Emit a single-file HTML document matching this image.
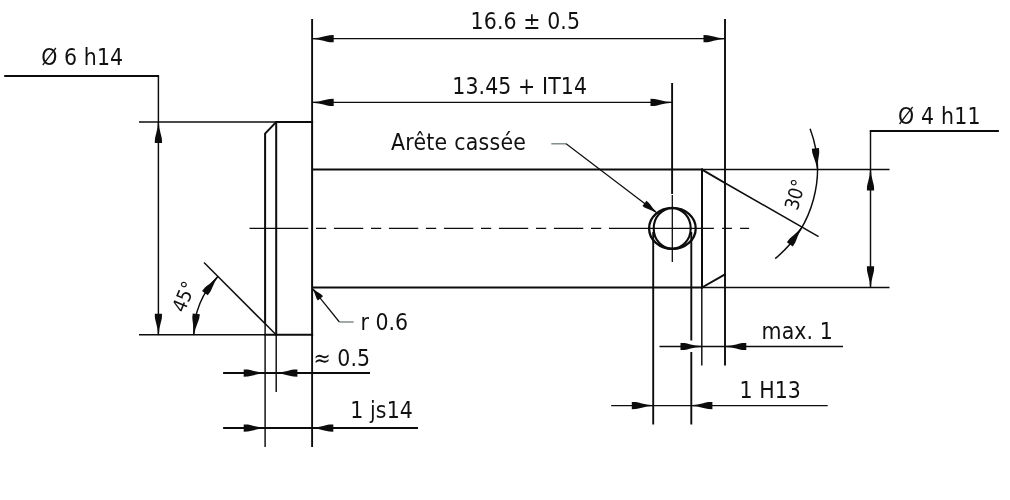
<!DOCTYPE html>
<html lang="fr">
<head>
<meta charset="utf-8">
<title>Axe - dessin technique</title>
<style>
html,body{margin:0;padding:0;background:#fff;}
body{width:1010px;height:500px;overflow:hidden;}
svg{display:block;will-change:transform;}
text{font-family:"DejaVu Sans Condensed","DejaVu Sans","Liberation Sans",sans-serif;font-size:22.8px;fill:#111;letter-spacing:0.1px;}
text.r{font-size:19.5px;letter-spacing:0;}
.k{stroke:#0c0c0c;stroke-width:2;fill:none;stroke-linecap:butt;}
.m{stroke:#0c0c0c;stroke-width:1.9;fill:none;}
.t{stroke:#0c0c0c;stroke-width:1.45;fill:none;}
.d{stroke:#0c0c0c;stroke-width:1.3;fill:none;}
.g{stroke:#6f7b7b;stroke-width:1.3;fill:none;}
.a{fill:#0c0c0c;stroke:none;}
</style>
</head>
<body>
<svg width="1010" height="500" viewBox="0 0 1010 500">
<rect width="1010" height="500" fill="#fff"/>
<defs>
<!-- arrowhead pointing right, tip at origin -->
<path id="ar" d="M0.4 -0.4 L-6 -1 L-11 -2.1 L-14.5 -3 L-17 -3.5 L-21.1 -3.6 L-21.1 3.6 L-17 3.5 L-14.5 3 L-11 2.1 L-6 1 L0.4 0.4 Z"/>
<path id="as" d="M0.3 -0.4 L-5 -1.2 L-10 -2.6 L-12.5 -3.2 L-15 -3.3 L-15 3.3 L-12.5 3.2 L-10 2.6 L-5 1.2 L0.3 0.4 Z"/>
</defs>

<!-- ===== body outline ===== -->
<g class="k">
<path d="M265.1 323.6 L265.1 133.6 L276.6 121.6"/>
<path d="M276.2 121 L276.2 335.8"/>
<path d="M275.2 122 L313.1 122"/>
<path d="M264.2 334.8 L313.1 334.8"/>
<path d="M312.1 121 L312.1 335.8"/>
<path d="M702 168.6 L702 288.4"/>
<path d="M702 287.5 L725 274.4"/>
<path d="M702 169.6 L725 183"/>
<path d="M312 169.6 L703 169.6"/>
<path d="M312 287.45 L703 287.45"/>
</g>

<!-- extension lines -->
<g class="m">
<path d="M312.1 19 L312.1 121"/>
<path d="M312.1 335 L312.1 447"/>
<path d="M725 19 L725 365.5"/>
<path d="M672.1 83 L672.1 194"/>
<path d="M653.2 232 L653.2 424.5"/>
<path d="M691.3 232 L691.3 340.6 M691.3 352 L691.3 424.5"/>
</g>
<g class="t">
<path d="M139 122 L276 122"/>
<path d="M139 334.8 L265 334.8"/>
<path d="M265.1 323 L265.1 447"/>
<path d="M276.2 335 L276.2 392"/>
<path d="M701.8 287.4 L701.8 365.5"/>
<path d="M702 169.4 L889.5 169.4"/>
<path d="M702 287.4 L889.5 287.4"/>
<path d="M672.3 195 L672.3 262" style="stroke-width:1.3"/>
<path d="M725 183 L818.6 236.6"/>
<path d="M204 262.6 L276.2 334.8"/>
</g>

<!-- centre line -->
<g class="t" style="stroke-width:1.25">
<path d="M249.5 228.45 L308.3 228.45"/>
<path d="M316 228.45 L610 228.45" stroke-dasharray="10.2 7.75 29.3 7.75"/>
<path d="M609.4 228.45 L713.9 228.45"/>
<path d="M722.1 228.45 L731.9 228.45 M740.1 228.45 L749.1 228.45"/>
</g>

<!-- hole -->
<ellipse class="k" cx="672.4" cy="228.4" rx="23.3" ry="20.5" style="stroke-width:2.3"/>
<ellipse class="k" cx="672.2" cy="228.4" rx="18.5" ry="20.3" style="stroke-width:2.1"/>

<!-- ===== dimensions ===== -->
<!-- Ø 6 h14 -->
<path class="k" d="M4.2 75.95 L159.1 75.95"/>
<path class="t" d="M158.4 76 L158.4 334.6"/>
<use href="#ar" class="a" transform="translate(158.4 122) rotate(-90)"/>
<use href="#ar" class="a" transform="translate(158.4 334.8) rotate(90)"/>
<text x="41.2" y="65.2">Ø 6 h14</text>

<!-- 16.6 -->
<path class="d" d="M312.3 38.7 L725 38.7"/>
<use href="#ar" class="a" transform="translate(312.6 38.7) rotate(180)"/>
<use href="#ar" class="a" transform="translate(724.6 38.7)"/>
<text x="470.6" y="29">16.6 ± 0.5</text>

<!-- 13.45 -->
<path class="d" d="M312.3 102.4 L672 102.4"/>
<use href="#ar" class="a" transform="translate(312.6 102.4) rotate(180)"/>
<use href="#ar" class="a" transform="translate(671.6 102.4)"/>
<text x="452.3" y="94.3">13.45 + IT14</text>

<!-- Arête cassée -->
<text x="391" y="150" style="letter-spacing:0.25px">Arête cassée</text>
<path class="g" d="M551.3 143.8 L566.3 143.8"/>
<path class="d" style="stroke-width:1.2" d="M566.1 143.8 L655.5 211.8"/>
<use href="#as" class="a" transform="translate(656.4 212.5) rotate(37.3)"/>

<!-- Ø 4 h11 -->
<path class="k" d="M869.8 130.9 L998.9 130.9"/>
<path class="t" d="M870.5 130.5 L870.5 287.4"/>
<use href="#ar" class="a" transform="translate(870.5 169.4) rotate(-90)"/>
<use href="#ar" class="a" transform="translate(870.5 287.4) rotate(90)"/>
<text x="898" y="123.9" style="letter-spacing:0.2px">Ø 4 h11</text>

<!-- 30° -->
<path class="t" d="M810.1 128.8 A115.4 115.4 0 0 1 775.2 258.6"/>
<use href="#ar" class="a" transform="translate(817.4 169.4) rotate(84.5)"/>
<use href="#ar" class="a" transform="translate(801.9 227.1) rotate(-55)"/>
<text class="r" transform="translate(795 194.5) rotate(-74)" text-anchor="middle" y="7">30°</text>

<!-- 45° -->
<path class="t" d="M193.7 334.8 A82.5 82.5 0 0 1 217.9 276.5"/>
<use href="#ar" class="a" transform="translate(193.7 334.8) rotate(97)"/>
<use href="#ar" class="a" transform="translate(217.9 276.5) rotate(-52)"/>
<text class="r" transform="translate(183.7 296.5) rotate(-67.5)" text-anchor="middle" y="7">45°</text>

<!-- r 0.6 -->
<path class="d" style="stroke-width:1.2" d="M313.5 289.8 L339.4 322"/>
<path class="g" d="M339.4 322 L353.7 322"/>
<use href="#as" class="a" transform="translate(312.9 289) rotate(-128.8) scale(0.8 1)"/>
<text x="360.6" y="329.8" style="letter-spacing:0">r 0.6</text>

<!-- ≈ 0.5 -->
<path class="m" d="M223.1 373.05 L370 373.05"/>
<use href="#ar" class="a" transform="translate(264.8 373.05)"/>
<use href="#ar" class="a" transform="translate(276.3 373.05) rotate(180)"/>
<text x="313.4" y="365.8">≈ 0.5</text>

<!-- 1 js14 -->
<path class="m" d="M223.1 428.05 L418 428.05"/>
<use href="#ar" class="a" transform="translate(264.8 428.05)"/>
<use href="#ar" class="a" transform="translate(312.2 428.05) rotate(180)"/>
<text x="350.3" y="418.4">1 js14</text>

<!-- max. 1 -->
<path class="d" d="M659.5 346.5 L843 346.5"/>
<use href="#ar" class="a" transform="translate(701.6 346.5)"/>
<use href="#ar" class="a" transform="translate(725.2 346.5) rotate(180)"/>
<text x="761.6" y="338.6">max. 1</text>

<!-- 1 H13 -->
<path class="d" d="M611.2 405.55 L827.7 405.55"/>
<use href="#ar" class="a" transform="translate(652.9 405.55)"/>
<use href="#ar" class="a" transform="translate(691.3 405.55) rotate(180)"/>
<text x="739.4" y="397.6">1 H13</text>
</svg>
</body>
</html>
